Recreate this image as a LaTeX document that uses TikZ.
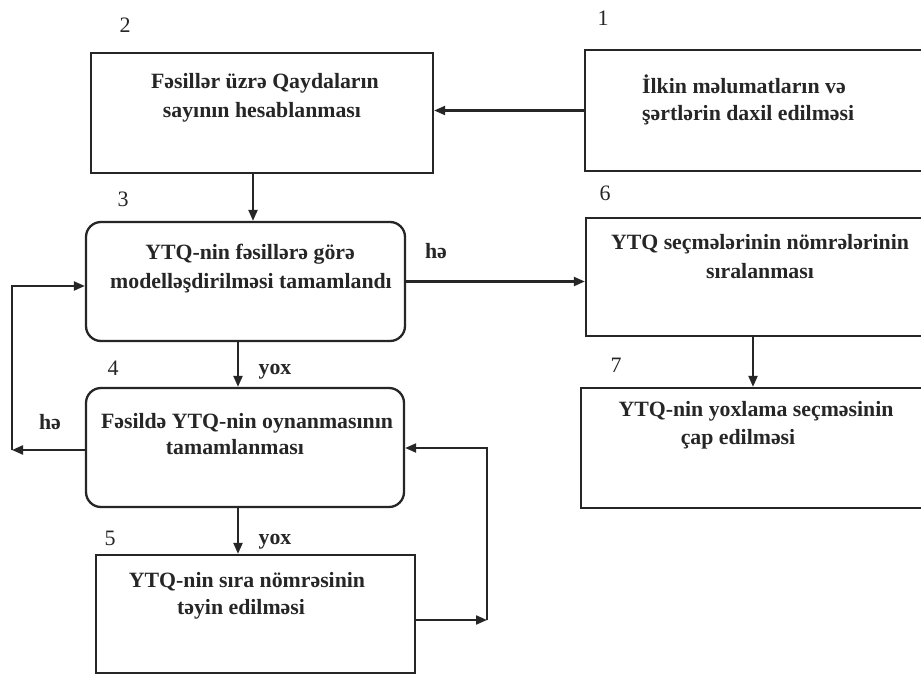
\documentclass[tikz,border=0pt]{standalone}
\usepackage{fontspec}
\setmainfont{Liberation Serif}
\usetikzlibrary{arrows.meta,positioning,calc}
\begin{document}
\begin{tikzpicture}[x=1pt,y=-1pt,
  boxline/.style={draw=black!85,line width=2.3pt,inner sep=0pt},
  sqbox/.style={boxline,rectangle},
  rbox/.style={boxline,rectangle,rounded corners=15pt},
  arr/.style={draw=black!85,line width=2.1pt,-{Triangle[length=11pt,width=9pt]}},
  txt/.style={font=\bfseries\fontsize{21.8}{26}\selectfont,anchor=mid,inner sep=0pt,text=black!85,yshift=-4pt},
  num/.style={font=\fontsize{22}{26}\selectfont,anchor=mid,inner sep=0pt,text=black!85,yshift=-5pt}]
\clip (0,0) rectangle (921,677);
\fill[white] (0,0) rectangle (921,677);
% boxes
\node[sqbox,minimum width=342pt,minimum height=120pt] (b2) at (262,113) {};
\node[sqbox,minimum width=355pt,minimum height=121pt] (b1) at (762.5,110.5) {};
\node[rbox,minimum width=319pt,minimum height=119pt] (b3) at (245.5,281.5) {};
\node[sqbox,minimum width=354pt,minimum height=118pt] (b6) at (763,277) {};
\node[rbox,minimum width=318pt,minimum height=119pt] (b4) at (245,447.5) {};
\node[sqbox,minimum width=359pt,minimum height=120pt] (b7) at (760.5,448) {};
\node[sqbox,minimum width=319pt,minimum height=118pt] (b5) at (255.5,614) {};
% texts
\node[txt] (t2a) at (265,82) {Fəsillər üzrə Qaydaların};
\node[txt] (t2b) at (262,111) {sayının hesablanması};
\node[txt,anchor=mid west] (t1a) at (642,87) {İlkin məlumatların və};
\node[txt,anchor=mid west] (t1b) at (642,114) {şərtlərin daxil edilməsi};
\node[txt] (t3a) at (250,253) {YTQ-nin fəsillərə görə};
\node[txt] (t3b) at (251,282) {modelləşdirilməsi tamamlandı};
\node[txt] (t4a) at (247,422) {Fəsildə YTQ-nin oynanmasının};
\node[txt] (t4b) at (235,448) {tamamlanması};
\node[txt] (t6a) at (760,243) {YTQ seçmələrinin nömrələrinin};
\node[txt] (t6b) at (760,272) {sıralanması};
\node[txt] (t7a) at (756,410) {YTQ-nin yoxlama seçməsinin};
\node[txt] (t7b) at (738,438) {çap edilməsi};
\node[txt] (t5a) at (247,581) {YTQ-nin sıra nömrəsinin};
\node[txt] (t5b) at (241,608) {təyin edilməsi};
% numbers
\node[num] (n2) at (125,25) {2};
\node[num] (n1) at (603,18) {1};
\node[num] (n3) at (123,199) {3};
\node[num] (n6) at (605,193) {6};
\node[num] (n4) at (113,368) {4};
\node[num] (n7) at (616,365) {7};
\node[num] (n5) at (110,538) {5};
% edge labels
\node[txt] (lh1) at (436,252) {hə};
\node[txt] (lh2) at (50,423) {hə};
\node[txt] (ly1) at (275,368) {yox};
\node[txt] (ly2) at (275,538) {yox};
% connectors
\coordinate (lp) at (12,450);
\coordinate (rp) at (487,620);
\draw[arr] (b1.west) -- (b1.west -| b2.east);
\draw[arr] ([xshift=-9pt]b2.south) -- ([xshift=-9pt]b2.south |- b3.north);
\draw[arr] (b3.east) -- (b3.east -| b6.west);
\draw[arr] ([xshift=-7.5pt]b3.south) -- ([xshift=-7.5pt]b3.south |- b4.north);
\draw[arr] ([xshift=-7pt]b4.south) -- ([xshift=-7pt]b4.south |- b5.north);
\draw[arr] ([xshift=-10pt]b6.south) -- ([xshift=-10pt]b6.south |- b7.north);
\draw[arr] (b4.west |- lp) -- (lp);
\draw[arr] (lp) |- ([yshift=-4.5pt]b3.west);
\draw[arr] (b5.east |- rp) -- (rp);
\draw[arr] (rp) |- ([yshift=-0.5pt]b4.east);
\end{tikzpicture}
\end{document}
